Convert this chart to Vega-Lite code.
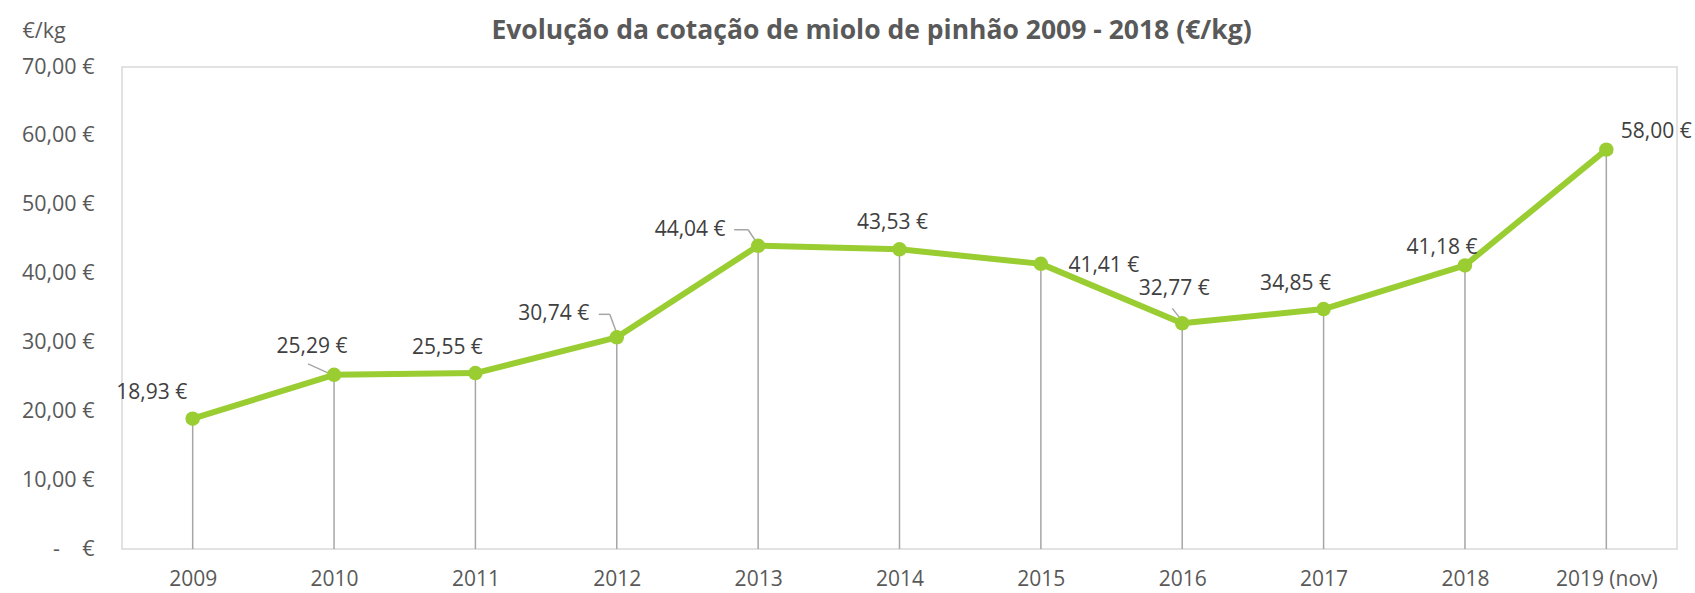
{
  "$schema": "https://vega.github.io/schema/vega-lite/v6.json",
  "width": 1555,
  "height": 482,
  "autosize": {"type": "none"},
  "padding": {"left": 122, "top": 67, "right": 18, "bottom": 44},
  "background": "white",
  "title": {
    "text": "Evolução da cotação de miolo de pinhão 2009 - 2018 (€/kg)",
    "anchor": "middle",
    "frame": "group",
    "dx": -28,
    "offset": -24,
    "font": "Open Sans",
    "fontSize": 26.5,
    "fontWeight": "bold",
    "color": "#595959"
  },
  "config": {
    "locale": {
      "number": {"decimal": ",", "thousands": ".", "grouping": [3], "currency": ["", " €"]}
    },
    "view": {"stroke": "#d9d9d9", "strokeWidth": 1.5},
    "font": "Open Sans",
    "text": {"fontSize": 21, "color": "#404040", "font": "Open Sans"},
    "rule": {"color": "#a6a6a6", "strokeWidth": 1.5}
  },
  "data": {
    "values": [
      {"year": "2009", "value": 18.93},
      {"year": "2010", "value": 25.29},
      {"year": "2011", "value": 25.55},
      {"year": "2012", "value": 30.74},
      {"year": "2013", "value": 44.04},
      {"year": "2014", "value": 43.53},
      {"year": "2015", "value": 41.41},
      {"year": "2016", "value": 32.77},
      {"year": "2017", "value": 34.85},
      {"year": "2018", "value": 41.18},
      {"year": "2019 (nov)", "value": 58.00}
    ]
  },
  "encoding": {
    "x": {
      "field": "year", "type": "ordinal", "sort": null,
      "scale": {"type": "point", "padding": 0.5},
      "axis": {
        "title": null, "labelAngle": 0, "ticks": false, "domain": false, "grid": false,
        "labelFont": "Open Sans", "labelFontSize": 21, "labelColor": "#595959", "labelPadding": 19
      }
    },
    "y": {
      "field": "value", "type": "quantitative",
      "scale": {"domain": [0, 70], "nice": false},
      "axis": {
        "values": [0, 10, 20, 30, 40, 50, 60, 70],
        "labelExpr": "datum.value == 0 ? '-\u00a0\u00a0\u00a0\u00a0€' : format(datum.value, '$.2f')",
        "ticks": false, "domain": false, "grid": false,
        "labelFont": "Open Sans", "labelFontSize": 21.5, "labelColor": "#595959", "labelPadding": 28,
        "title": "€/kg", "titleAngle": 0, "titleAlign": "left", "titleBaseline": "middle",
        "titleX": -100, "titleY": -36, "titleFont": "Open Sans", "titleFontSize": 21.5,
        "titleFontWeight": "normal", "titleColor": "#595959"
      }
    }
  },
  "layer": [
    {
      "mark": {"type": "rule"},
      "encoding": {"y2": {"datum": 0}}
    },
    {"transform": [{"filter": "datum.year == '2010'"}], "mark": {"type": "rule", "xOffset": -26, "yOffset": -11, "x2Offset": -4, "y2Offset": -1}, "encoding": {"x2": {"field": "year"}, "y2": {"field": "value"}}},
    {"transform": [{"filter": "datum.year == '2012'"}], "mark": {"type": "rule", "xOffset": -18, "yOffset": -23, "x2Offset": -7, "y2Offset": -23}, "encoding": {"x2": {"field": "year"}, "y2": {"field": "value"}}},
    {"transform": [{"filter": "datum.year == '2012'"}], "mark": {"type": "rule", "xOffset": -7, "yOffset": -23, "x2Offset": 0, "y2Offset": -4}, "encoding": {"x2": {"field": "year"}, "y2": {"field": "value"}}},
    {"transform": [{"filter": "datum.year == '2013'"}], "mark": {"type": "rule", "xOffset": -24, "yOffset": -16, "x2Offset": -10, "y2Offset": -16}, "encoding": {"x2": {"field": "year"}, "y2": {"field": "value"}}},
    {"transform": [{"filter": "datum.year == '2013'"}], "mark": {"type": "rule", "xOffset": -10, "yOffset": -16, "x2Offset": -2, "y2Offset": -4}, "encoding": {"x2": {"field": "year"}, "y2": {"field": "value"}}},
    {"transform": [{"filter": "datum.year == '2016'"}], "mark": {"type": "rule", "xOffset": -10, "yOffset": -15, "x2Offset": -2, "y2Offset": -5}, "encoding": {"x2": {"field": "year"}, "y2": {"field": "value"}}},
    {
      "mark": {"type": "line", "color": "#9acd32", "strokeWidth": 6, "strokeJoin": "round"}
    },
    {
      "mark": {"type": "point", "filled": true, "color": "#9acd32", "size": 210, "opacity": 1}
    },
    {"transform": [{"filter": "datum.year == '2009'"}], "mark": {"type": "text", "dx": -41, "dy": -26}, "encoding": {"text": {"field": "value", "format": "$.2f"}}},
    {"transform": [{"filter": "datum.year == '2010'"}], "mark": {"type": "text", "dx": -22, "dy": -28}, "encoding": {"text": {"field": "value", "format": "$.2f"}}},
    {"transform": [{"filter": "datum.year == '2011' || datum.year == '2017'"}], "mark": {"type": "text", "dx": -28, "dy": -25}, "encoding": {"text": {"field": "value", "format": "$.2f"}}},
    {"transform": [{"filter": "datum.year == '2012'"}], "mark": {"type": "text", "dx": -63, "dy": -23}, "encoding": {"text": {"field": "value", "format": "$.2f"}}},
    {"transform": [{"filter": "datum.year == '2013'"}], "mark": {"type": "text", "dx": -68, "dy": -16}, "encoding": {"text": {"field": "value", "format": "$.2f"}}},
    {"transform": [{"filter": "datum.year == '2014'"}], "mark": {"type": "text", "dx": -7, "dy": -26}, "encoding": {"text": {"field": "value", "format": "$.2f"}}},
    {"transform": [{"filter": "datum.year == '2015'"}], "mark": {"type": "text", "dx": 63, "dy": 2}, "encoding": {"text": {"field": "value", "format": "$.2f"}}},
    {"transform": [{"filter": "datum.year == '2016'"}], "mark": {"type": "text", "dx": -8, "dy": -34}, "encoding": {"text": {"field": "value", "format": "$.2f"}}},
    {"transform": [{"filter": "datum.year == '2018'"}], "mark": {"type": "text", "dx": -23, "dy": -17}, "encoding": {"text": {"field": "value", "format": "$.2f"}}},
    {"transform": [{"filter": "datum.year == '2019 (nov)'"}], "mark": {"type": "text", "dx": 50, "dy": -18}, "encoding": {"text": {"field": "value", "format": "$.2f"}}}
  ]
}
